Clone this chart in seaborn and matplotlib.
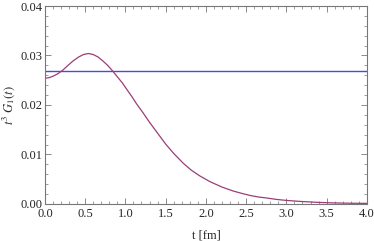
import pandas as pd
import seaborn as sns
import matplotlib
matplotlib.use("Agg")
import matplotlib.pyplot as plt
from matplotlib.ticker import MultipleLocator, FormatStrFormatter

# values
t_vals = [0.0, 0.05, 0.1, 0.16, 0.22, 0.28, 0.35, 0.42, 0.48, 0.54, 0.6,
          0.66, 0.72, 0.78, 0.84, 0.9, 0.96, 1.02, 1.08, 1.14, 1.22, 1.3,
          1.4, 1.5, 1.6, 1.72, 1.82, 1.93, 2.05, 2.2, 2.34, 2.45, 2.55,
          2.65, 2.75, 2.88, 3.0, 3.17, 3.4, 3.58, 3.8, 4.0]
g_vals = [0.0254, 0.0255, 0.0258, 0.0263, 0.0270, 0.0279, 0.0289, 0.0297,
          0.0302, 0.0304, 0.0302, 0.0297, 0.0289, 0.0280, 0.0269, 0.0257,
          0.0245, 0.0231, 0.0217, 0.0202, 0.0184, 0.0165, 0.0143, 0.0121,
          0.0102, 0.0082, 0.0068, 0.0056, 0.0045, 0.0034, 0.0026, 0.0021,
          0.0017, 0.0014, 0.0012, 0.0009, 0.0007, 0.0005, 0.0003, 0.0002,
          0.00013, 0.0001]
const_val = 0.0269

df = pd.DataFrame({"t": t_vals, "G": g_vals})
df_const = pd.DataFrame({"t": [0.0, 4.0], "G": [const_val, const_val]})

sns.set_style("ticks")
plt.rcParams["font.family"] = ["Liberation Serif", "DejaVu Serif"]
plt.rcParams["mathtext.fontset"] = "stix"
plt.rcParams["font.size"] = 9

fig = plt.figure(figsize=(3.74, 2.41), dpi=100)
ax = fig.add_axes([0.120, 0.154, 0.861, 0.821])

sns.lineplot(data=df_const, x="t", y="G", color="#4a4ad8", linewidth=1.0, ax=ax)
sns.lineplot(data=df, x="t", y="G", color="#9c3d78", linewidth=0.9, ax=ax)

ax.set_xlim(0, 4)
ax.set_ylim(0, 0.04)
ax.xaxis.set_major_locator(MultipleLocator(0.5))
ax.xaxis.set_minor_locator(MultipleLocator(0.1))
ax.yaxis.set_major_locator(MultipleLocator(0.01))
ax.yaxis.set_minor_locator(MultipleLocator(0.002))
ax.xaxis.set_major_formatter(FormatStrFormatter("%.1f"))
ax.yaxis.set_major_formatter(FormatStrFormatter("%.2f"))

for s in ax.spines.values():
    s.set_color("#777777")
    s.set_linewidth(0.8)
ax.tick_params(which="both", direction="in", top=True, right=True,
               color="#777777", labelsize=9)
ax.tick_params(axis="x", pad=3)
ax.tick_params(axis="y", pad=2)
ax.tick_params(which="major", length=4, width=0.6)
ax.tick_params(which="minor", length=2, width=0.5)

ax.set_xlabel("t [fm]", fontsize=9, labelpad=7)
ax.set_ylabel(r"$t^3\ G_1(t)$", fontsize=9, labelpad=2)

fig.savefig("out.png", dpi=100)
